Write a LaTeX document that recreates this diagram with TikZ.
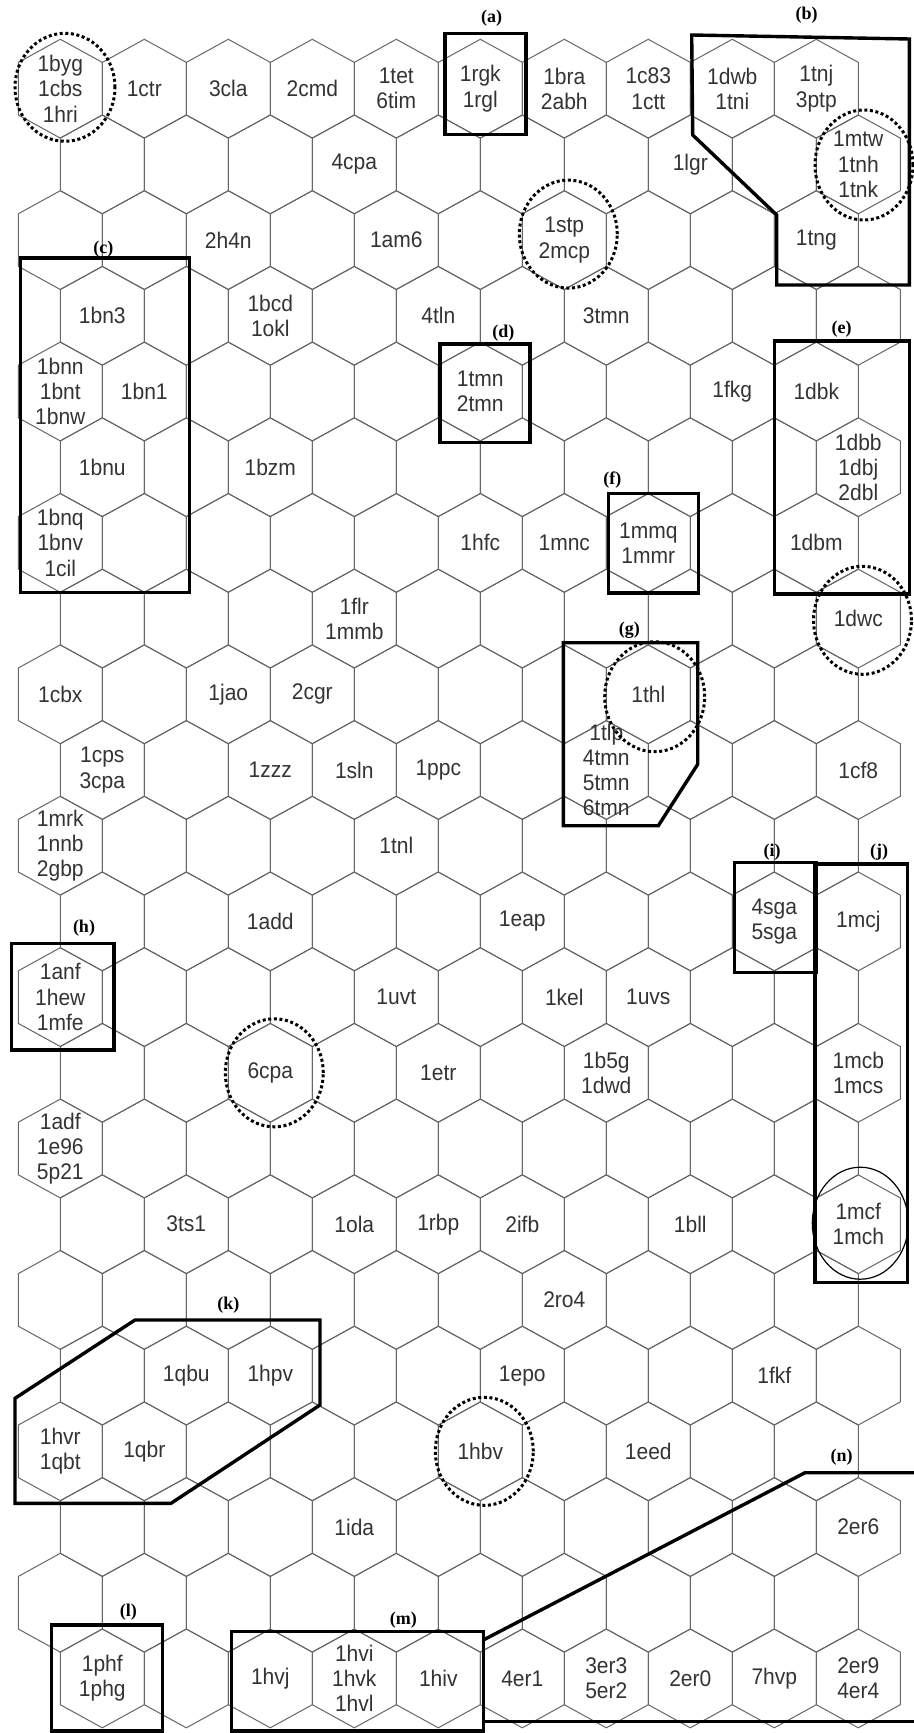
\documentclass[tikz,border=0pt]{standalone}
\usepackage{fontspec}
\setmainfont{Liberation Sans}[FakeStretch=0.93]
\newfontfamily\tagfont{Liberation Serif}
\tikzset{
  hexline/.style={draw=black!60, line width=0.5pt},
  cell/.style={align=center, inner sep=0pt, text=black!80, font=\fontsize{11.3}{12.6}\selectfont},
  region/.style={draw=black, line width=1.7pt},
  tag/.style={inner sep=0pt, font=\tagfont\bfseries\fontsize{9}{10}\selectfont},
  hot/.style={draw=black, line width=1.5pt, dash pattern=on 1.5pt off 1.3pt},
  ring/.style={draw=black, line width=0.6pt},
}
\begin{document}
\begin{tikzpicture}[x=0.5pt, y=-0.5pt]
  \useasboundingbox (0,0) rectangle (914,1733);
  % hexagonal map, 22 rows of 10 cells
  \foreach \r in {0,...,21}{
    \foreach \c in {0,...,9}{
      \pgfmathsetmacro\hx{60.3+84*\c+42*mod(\r,2)}
      \pgfmathsetmacro\hy{88.7+75.7*\r}
      \coordinate (h-\r-\c) at (\hx,\hy);
      \draw[hexline] (h-\r-\c) +(0,-49.4) -- +(42,-26.3) -- +(42,26.3) -- +(0,49.4) -- +(-42,26.3) -- +(-42,-26.3) -- cycle;
    }
  }
  % cell contents
  \foreach \p/\t in {
    0-0/{1byg\\1cbs\\1hri}, 0-1/1ctr, 0-2/3cla, 0-3/2cmd, 0-4/{1tet\\6tim},
    0-5/{1rgk\\1rgl}, 0-6/{1bra\\2abh}, 0-7/{1c83\\1ctt}, 0-8/{1dwb\\1tni}, 0-9/{1tnj\\3ptp},
    1-3/4cpa, 1-7/1lgr, 1-9/{1mtw\\1tnh\\1tnk},
    2-2/2h4n, 2-4/1am6, 2-6/{1stp\\2mcp}, 2-9/1tng,
    3-0/1bn3, 3-2/{1bcd\\1okl}, 3-4/4tln, 3-6/3tmn,
    4-0/{1bnn\\1bnt\\1bnw}, 4-1/1bn1, 4-5/{1tmn\\2tmn}, 4-8/1fkg, 4-9/1dbk,
    5-0/1bnu, 5-2/1bzm, 5-9/{1dbb\\1dbj\\2dbl},
    6-0/{1bnq\\1bnv\\1cil}, 6-5/1hfc, 6-6/1mnc, 6-7/{1mmq\\1mmr}, 6-9/1dbm,
    7-3/{1flr\\1mmb}, 7-9/1dwc,
    8-0/1cbx, 8-2/1jao, 8-3/2cgr, 8-7/1thl,
    9-0/{1cps\\3cpa}, 9-2/1zzz, 9-3/1sln, 9-4/1ppc, 9-6/{1tlp\\4tmn\\5tmn\\6tmn}, 9-9/1cf8,
    10-0/{1mrk\\1nnb\\2gbp}, 10-4/1tnl,
    11-2/1add, 11-5/1eap, 11-8/{4sga\\5sga}, 11-9/1mcj,
    12-0/{1anf\\1hew\\1mfe}, 12-4/1uvt, 12-6/1kel, 12-7/1uvs,
    13-2/6cpa, 13-4/1etr, 13-6/{1b5g\\1dwd}, 13-9/{1mcb\\1mcs},
    14-0/{1adf\\1e96\\5p21},
    15-1/3ts1, 15-3/1ola, 15-4/1rbp, 15-5/2ifb, 15-7/1bll, 15-9/{1mcf\\1mch},
    16-6/2ro4,
    17-1/1qbu, 17-2/1hpv, 17-5/1epo, 17-8/1fkf,
    18-0/{1hvr\\1qbt}, 18-1/1qbr, 18-5/1hbv, 18-7/1eed,
    19-3/1ida, 19-9/2er6,
    21-0/{1phf\\1phg}, 21-2/1hvj, 21-3/{1hvi\\1hvk\\1hvl}, 21-4/1hiv, 21-5/4er1,
    21-6/{3er3\\5er2}, 21-7/2er0, 21-8/7hvp, 21-9/{2er9\\4er4}}
    \node[cell] (lab-\p) at (h-\p) {\t};
  % dotted rings
  \draw[hot] ([shift={(4.7,-1.4)}]h-0-0) ellipse [x radius=25pt, y radius=27pt];
  \draw[hot] ([shift={(5.7,0.6)}]h-1-9) ellipse [x radius=24.5pt, y radius=27.5pt];
  \draw[hot] ([shift={(4,-6)}]h-2-6) ellipse [x radius=24.5pt, y radius=27pt];
  \draw[hot] ([shift={(4.2,1.7)}]h-7-9) ellipse [x radius=24.5pt, y radius=27pt];
  \draw[hot] ([shift={(6.4,2.4)}]h-8-7) ellipse [x radius=25pt, y radius=27.5pt];
  \draw[hot] ([shift={(4,0)}]h-13-2) ellipse [x radius=24.5pt, y radius=27pt];
  \draw[hot] ([shift={(4,0)}]h-18-5) ellipse [x radius=24.5pt, y radius=27pt];
  \draw[ring] ([shift={(2,-1)}]h-15-9) ellipse [x radius=24pt, y radius=28pt];
  % outlined regions
  \draw[region] (445,33.6) rectangle (526,134.4);
  \draw[region] (691.7,35) -- (909.3,39) -- (909.3,285) -- (776.7,285) -- (776.7,215) -- (692.7,135) -- cycle;
  \draw[region] (20.7,258) rectangle (189.3,592.7);
  \draw[region] (440,344) rectangle (530,442.7);
  \draw[region] (774.3,341) rectangle (909.3,594);
  \draw[region] (608.3,493.3) rectangle (698.3,592.9);
  \draw[region] (563.3,642.7) -- (697.7,642.7) -- (697.7,764.3) -- (658.3,825.7) -- (563.3,825.7) -- cycle;
  \draw[region] (11.7,943.3) rectangle (114,1050);
  \draw[region] (734.3,862.3) rectangle (816.7,972.3);
  \draw[region] (815,864) rectangle (907.3,1282.7);
  \draw[region] (135,1320) -- (320,1320) -- (320,1405) -- (171,1503.3) -- (15,1503.3) -- (15,1398.3) -- cycle;
  \draw[region] (51.7,1625) rectangle (162.7,1731);
  \draw[region] (231.7,1631.7) rectangle (483.3,1731);
  \draw[region] (483.3,1640) -- (805,1472.7) -- (914,1472.7);
  \draw[region] (483.3,1721.7) -- (914,1721.7);
  % region tags
  \node[tag] (tag-a) at (491.7,17.8) {(a)};
  \node[tag] (tag-b) at (806.7,15) {(b)};
  \node[tag] (tag-c) at (103.3,249) {(c)};
  \node[tag] (tag-d) at (503.3,333) {(d)};
  \node[tag] (tag-e) at (841.7,329.3) {(e)};
  \node[tag] (tag-f) at (612.3,480) {(f)};
  \node[tag] (tag-g) at (629.3,630) {(g)};
  \node[tag] (tag-h) at (84,928) {(h)};
  \node[tag] (tag-i) at (772,851.7) {(i)};
  \node[tag] (tag-j) at (879,851.7) {(j)};
  \node[tag] (tag-k) at (228.3,1305) {(k)};
  \node[tag] (tag-l) at (128.3,1611.7) {(l)};
  \node[tag] (tag-m) at (403.3,1620) {(m)};
  \node[tag] (tag-n) at (841.7,1457.3) {(n)};
\end{tikzpicture}
\end{document}
